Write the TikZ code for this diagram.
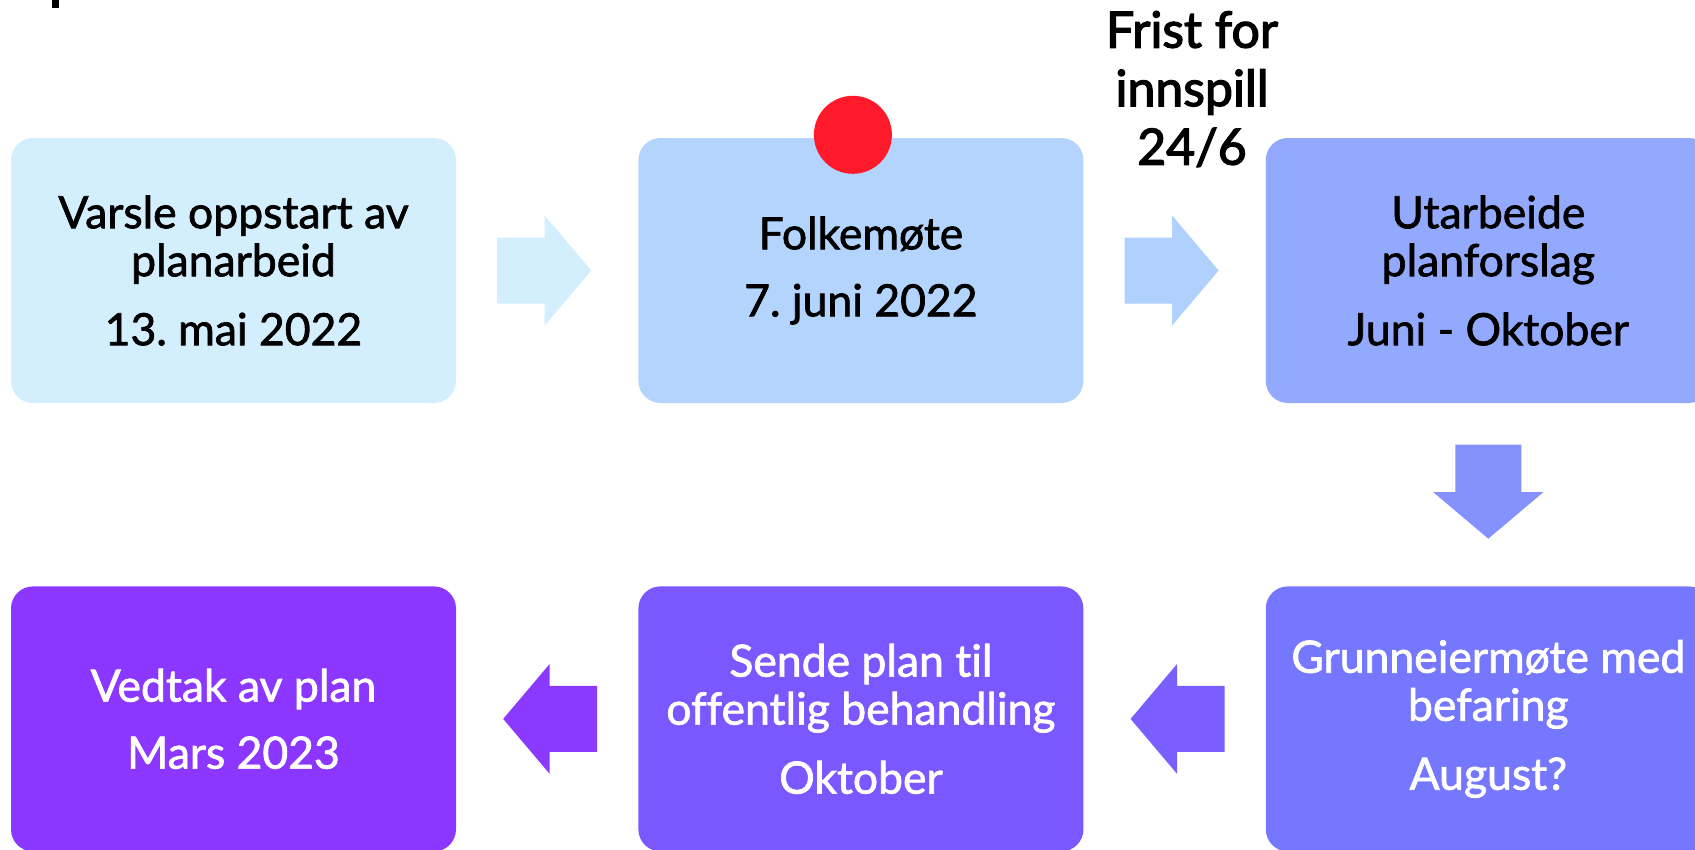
\documentclass[tikz,border=0pt]{standalone}
\usepackage{fontspec}
\setmainfont{Lato}[Ligatures=NoCommon]
\newfontfamily\medfont{Lato}[Ligatures=NoCommon,FakeBold=1.6]
\newfontfamily\headfont{Lato}[Ligatures=NoCommon,FakeBold=2.6]
\usetikzlibrary{positioning,calc}
\definecolor{boxone}{HTML}{D3EEFD}
\definecolor{boxtwo}{HTML}{B3D4FD}
\definecolor{boxthree}{HTML}{92A9FD}
\definecolor{boxfour}{HTML}{7577FF}
\definecolor{boxfive}{HTML}{7A57FF}
\definecolor{boxsix}{HTML}{8B37FF}
\definecolor{arrowone}{HTML}{D3EEFD}
\definecolor{arrowtwo}{HTML}{B0D1FD}
\definecolor{arrowdown}{HTML}{8592FE}
\definecolor{arrowfour}{HTML}{7A5EFF}
\definecolor{arrowfive}{HTML}{8B38FF}
\definecolor{dotred}{HTML}{FF1A2B}
\begin{document}
\begin{tikzpicture}[x=1pt,y=-1pt]
\tikzstyle{stepbox}=[rectangle,rounded corners=22pt,minimum width=445pt,minimum height=265pt,inner sep=0pt,align=center,font=\medfont\fontsize{44.5}{48}\selectfont]
\tikzstyle{lighttext}=[text=white]
\tikzset{blockarrow/.pic={\path[pic actions] (-50,33) -- (-2.5,33) -- (-2.5,55) -- (44,0) -- (-2.5,-55) -- (-2.5,-33) -- (-50,-33) -- cycle;}}
\useasboundingbox (0,0) rectangle (1695,849);
\fill (52,0) rectangle (59,8);
% first row
\node [stepbox,fill=boxone] at (233.5,270.5) (varsle) {Varsle oppstart av\\planarbeid\\[21pt]13.\ mai 2022};
\node [stepbox,fill=boxtwo,right=182pt of varsle] (folke) {Folkemøte\\[19pt]7.\ juni 2022};
\node [stepbox,fill=boxthree,right=182pt of folke] (utarbeide) {Utarbeide\\planforslag\\[21pt]Juni - Oktober};
% second row
\node [stepbox,lighttext,fill=boxfour,below=183pt of utarbeide] (grunneier) {Grunneiermøte med\\befaring\\[21pt]August?};
\node [stepbox,lighttext,fill=boxfive,left=182pt of grunneier] (sende) {Sende plan til\\offentlig behandling\\[21pt]Oktober};
\node [stepbox,lighttext,fill=boxsix,left=182pt of sende] (vedtak) {Vedtak av plan\\[19pt]Mars 2023};
\node [circle,fill=dotred,minimum size=78pt,inner sep=0pt] (dot) at ($(folke.north)+(-8,-3)$) {};
\node [align=center,font=\headfont\fontsize{50}{58.5}\selectfont] (frist) at (1192,89) {Frist for\\innspill\\24/6};
% arrows
\pic [fill=arrowone] at ($(varsle.east)!0.5!(folke.west)$) {blockarrow};
\pic [fill=arrowtwo] at ($(folke.east)!0.5!(utarbeide.west)$) {blockarrow};
\pic [fill=arrowdown,rotate=-90] at ($(utarbeide.south)!0.5!(grunneier.north)$) {blockarrow};
\pic [fill=arrowfour,rotate=180] at ($(grunneier.west)!0.5!(sende.east)$) {blockarrow};
\pic [fill=arrowfive,rotate=180] at ($(sende.west)!0.5!(vedtak.east)$) {blockarrow};
\end{tikzpicture}
\end{document}
